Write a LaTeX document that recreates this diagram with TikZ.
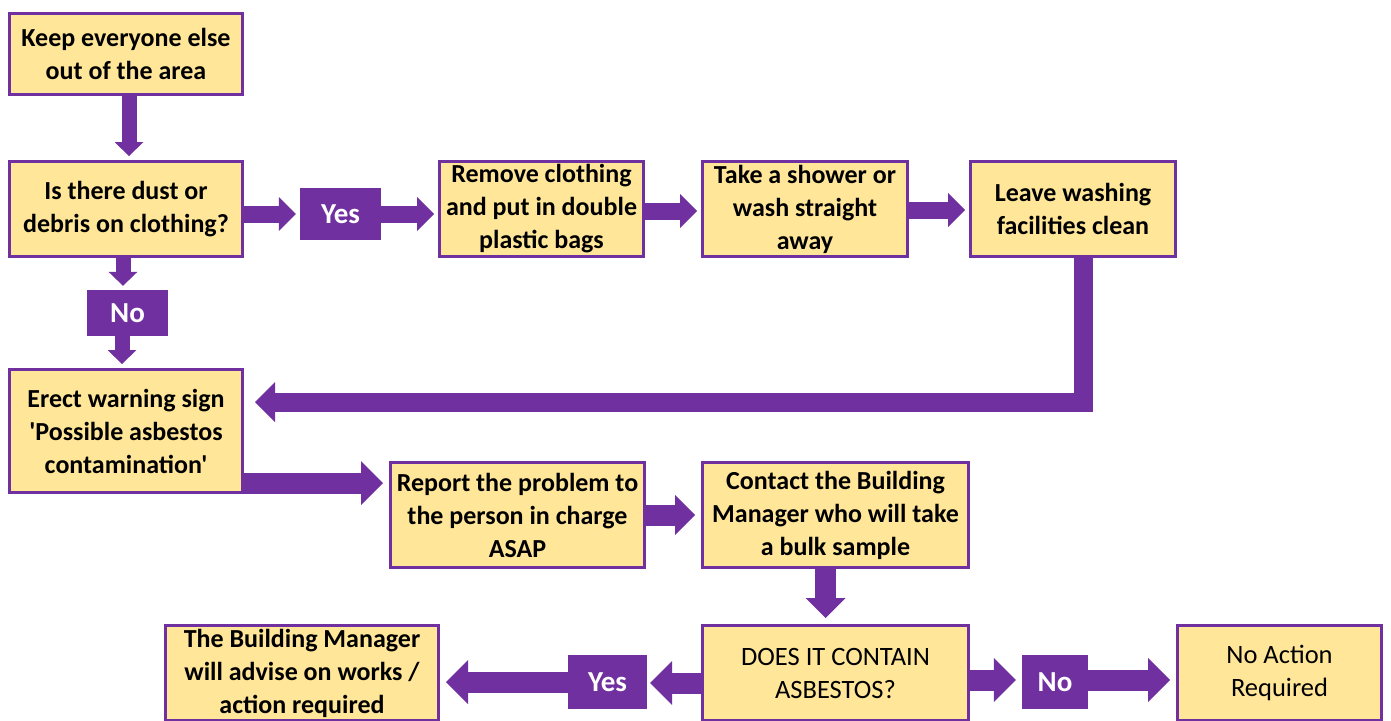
\documentclass[tikz,border=0pt]{standalone}
\usepackage{fontspec}
\setmainfont{Carlito}[Ligatures=TeXOff]
\usepackage{tikz}
\usetikzlibrary{arrows.meta, positioning, calc}
\definecolor{boxfill}{HTML}{FFE699}
\definecolor{flowpurple}{HTML}{7030A0}

\begin{document}
\begin{tikzpicture}[x=1pt, y=-1pt,
  box/.style={draw=flowpurple, fill=boxfill, line width=3pt, align=center, inner sep=0pt,
    font=\fontsize{26}{33}\selectfont\bfseries},
  plainbox/.style={box, font=\fontsize{26.5}{33}\selectfont},
  answer/.style={fill=flowpurple, text=white, inner sep=0pt, font=\fontsize{29}{30}\selectfont\bfseries},
  small flow/.style={flowpurple, line width=15pt, shorten >=4pt,
    -{Triangle[width=29pt, length=14pt, line width=0pt]}},
  flow/.style={flowpurple, line width=17pt, shorten >=4pt,
    -{Triangle[width=34pt, length=17pt, line width=0pt]}},
  big flow/.style={flowpurple, line width=21pt, shorten >=6pt, line join=miter,
    -{Triangle[width=44pt, length=22pt, line width=0pt]}}]
\useasboundingbox (0,0) rectangle (1391,720);

% Draw boxes
\node[box, minimum width=233pt, minimum height=81pt] (keep) at (126,54) {Keep everyone else\\out of the area};
\node[box, minimum width=233pt, minimum height=95pt] (dust) at (126,209) {Is there dust or\\debris on clothing?};
\node[box, minimum width=204pt, minimum height=95pt] (remove) at (541.5,209) {Remove clothing\\and put in double\\plastic bags};
\node[box, minimum width=205pt, minimum height=95pt] (shower) at (805,209) {Take a shower or\\wash straight\\away};
\node[box, minimum width=205pt, minimum height=95pt] (leave) at (1073,209) {Leave washing\\facilities clean};
\node[box, minimum width=233pt, minimum height=123pt] (erect) at (126,431) {Erect warning sign\\'Possible asbestos\\contamination'};
\node[box, minimum width=254pt, minimum height=105pt] (report) at (517.5,515) {Report the problem to\\the person in charge\\ASAP};
\node[box, minimum width=266pt, minimum height=105pt] (contact) at (835.5,515) {Contact the Building\\Manager who will take\\a bulk sample};
\node[plainbox, minimum width=266pt, minimum height=95pt] (contains) at (835.5,673) {DOES IT CONTAIN\\ASBESTOS?};
\node[box, minimum width=273pt, minimum height=95pt] (advise) at (302,673) {The Building Manager\\will advise on works /\\action required};
\node[plainbox, minimum width=204pt, minimum height=95pt] (noaction) at (1279.5,673) {No Action\\Required};

% Answers
\node[answer, minimum width=81pt, minimum height=52pt] (yesdust) at (340.5,214) {Yes};
\node[answer, minimum width=81pt, minimum height=46pt] (nodust) at (127.5,313) {No};
\node[answer, minimum width=79pt, minimum height=54pt] (yesasb) at (607.5,682) {Yes};
\node[answer, minimum width=66pt, minimum height=54pt] (noasb) at (1055,682) {No};

% Draw arrows
\draw[small flow] (keep.south -| 129,0) -- (dust.north -| 129,0);
\draw[flow] (dust.east |- yesdust) -- (yesdust);
\draw[flow] (yesdust) -- (remove.west |- yesdust);
\draw[flow] ([yshift=-2pt]remove.east) -- ([yshift=-2pt]shower.west);
\draw[flow] ([yshift=-1pt]shower.east) -- ([yshift=-1pt]leave.west);
\draw[small flow] (dust.south -| 123,0) -- (nodust.north -| 123,0);
\draw[small flow] (nodust.south -| 122,0) -- (erect.north -| 122,0);
\draw[big flow, line width=19pt, shorten >=11pt, -{Triangle[width=40pt, length=20pt, line width=0pt]}]
  ([xshift=10pt]leave.south) |- ([yshift=29pt]erect.east);
\draw[big flow] ([yshift=-52pt]erect.east) -- (report.west |- {(0,483)});
\draw[big flow, -{Triangle[width=40pt, length=20pt, line width=0pt]}] (report) -- (contact);
\draw[big flow, -{Triangle[width=40pt, length=20pt, line width=0pt]}] ([xshift=-10pt]contact.south) -- ([xshift=-10pt]contains.north);
\draw[big flow, shorten >=3pt] (contains.west |- {(0,683)}) -- (yesasb.east |- {(0,683)});
\draw[big flow] (yesasb) -- (advise.east |- yesasb);
\draw[big flow] (contains.east |- {(0,680)}) -- (noasb.west |- {(0,680)});
\draw[big flow] (noasb.east |- {(0,680)}) -- (noaction.west |- {(0,680)});
\end{tikzpicture}
\end{document}
